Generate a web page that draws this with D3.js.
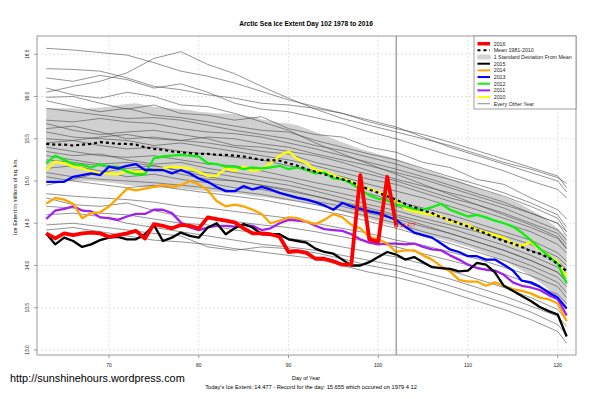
<!DOCTYPE html>
<html><head><meta charset="utf-8">
<script src="https://cdn.jsdelivr.net/npm/d3@7"></script>
<style>body{margin:0;background:#fff}svg{display:block}text{font-family:"Liberation Sans",Arial,sans-serif}</style>
</head><body><svg id="c" width="600" height="399"></svg>
<script>
const days = [63,64,65,66,67,68,69,70,71,72,73,74,75,76,77,78,79,80,81,82,83,84,85,86,87,88,89,90,91,92,93,94,95,96,97,98,99,100,101,102,103,104,105,106,107,108,109,110,111,112,113,114,115,116,117,118,119,120,121];
const xTicks = [70,80,90,100,110,120];
const yTicks = [13.0,13.5,14.0,14.5,15.0,15.5,16.0,16.5];

const y2016 = [14.38,14.32,14.38,14.36,14.38,14.39,14.38,14.34,14.36,14.38,
 14.41,14.32,14.49,14.47,14.44,14.48,14.47,14.44,14.57,14.55,
 14.53,14.51,14.44,14.38,14.38,14.37,14.34,14.16,14.17,14.15,
 14.08,14.08,14.05,14.01,14.01,15.07,14.31,14.28,15.05,14.477];
const y2015 = [14.38,14.25,14.33,14.29,14.22,14.25,14.30,14.33,14.34,14.31,
 14.31,14.37,14.48,14.29,14.33,14.39,14.35,14.33,14.45,14.50,
 14.37,14.44,14.49,14.45,14.37,14.37,14.37,14.31,14.29,14.27,
 14.20,14.16,14.14,14.07,14.00,14.00,14.04,14.10,14.16,14.13,
 14.07,14.10,14.04,13.98,13.97,13.96,13.93,13.94,14.03,14.01,
 13.92,13.76,13.70,13.64,13.58,13.51,13.46,13.42,13.16];
const y2014 = [14.73,14.80,14.78,14.73,14.56,14.62,14.63,14.70,14.80,14.91,
 14.89,14.91,14.93,14.95,14.93,14.95,15.00,14.96,14.89,14.76,
 14.70,14.72,14.70,14.66,14.61,14.50,14.53,14.57,14.56,14.52,
 14.49,14.54,14.61,14.57,14.48,14.44,14.34,14.31,14.26,14.16,
 14.18,14.18,14.12,14.07,13.99,13.93,13.83,13.81,13.81,13.76,
 13.80,13.76,13.72,13.70,13.67,13.62,13.60,13.55,13.34];
const y2013 = [14.99,14.99,14.99,15.05,15.07,15.09,15.07,15.17,15.15,15.18,
 15.20,15.13,15.13,15.13,15.09,15.13,15.09,15.03,14.99,14.93,
 14.88,14.88,14.94,14.90,14.93,14.90,14.86,14.83,14.80,14.78,
 14.75,14.71,14.66,14.74,14.70,14.67,14.64,14.62,14.58,14.54,
 14.46,14.39,14.36,14.33,14.26,14.19,14.16,14.11,14.11,14.07,
 14.07,14.01,13.94,13.82,13.80,13.75,13.68,13.62,13.49];
const y2012 = [15.21,15.30,15.25,15.20,15.19,15.16,15.20,15.17,15.17,15.11,
 15.08,15.08,15.27,15.29,15.30,15.31,15.30,15.29,15.21,15.20,
 15.17,15.17,15.14,15.16,15.15,15.16,15.18,15.14,15.16,15.13,
 15.09,15.10,15.03,15.02,14.97,14.90,14.83,14.79,14.77,14.72,
 14.70,14.67,14.66,14.69,14.73,14.66,14.62,14.58,14.60,14.57,
 14.53,14.50,14.46,14.39,14.30,14.20,14.11,14.02,13.79];
const y2011 = [14.55,14.65,14.67,14.70,14.65,14.64,14.57,14.56,14.54,14.58,
 14.61,14.61,14.66,14.66,14.62,14.51,14.45,14.42,14.45,14.47,
 14.47,14.46,14.48,14.47,14.42,14.44,14.50,14.54,14.53,14.52,
 14.47,14.43,14.42,14.41,14.37,14.31,14.27,14.25,14.26,14.26,
 14.25,14.26,14.22,14.19,14.18,14.12,14.07,14.01,13.97,13.95,
 13.94,13.89,13.80,13.76,13.74,13.71,13.65,13.60,13.41];
const y2010 = [15.13,15.23,15.21,15.17,15.15,15.11,15.09,15.09,15.08,15.12,
 15.11,15.11,15.14,15.15,15.17,15.16,15.15,15.11,15.06,15.06,
 15.15,15.12,15.17,15.12,15.14,15.21,15.30,15.35,15.26,15.21,
 15.13,15.11,15.07,15.03,14.99,14.93,14.91,14.87,14.83,14.77,
 14.67,14.64,14.62,14.60,14.58,14.52,14.50,14.48,14.42,14.39,
 14.36,14.33,14.26,14.23,14.28,14.19,14.12,14.04,13.87];
const meanVals = [15.44,15.43,15.43,15.42,15.43,15.44,15.46,15.45,15.44,15.44,
 15.43,15.40,15.38,15.37,15.35,15.34,15.33,15.32,15.32,15.31,
 15.31,15.30,15.29,15.27,15.25,15.25,15.24,15.21,15.18,15.14,
 15.11,15.08,15.05,15.02,14.99,14.94,14.90,14.86,14.82,14.78,
 14.73,14.69,14.65,14.62,14.57,14.54,14.50,14.46,14.42,14.38,
 14.33,14.29,14.26,14.22,14.17,14.14,14.09,14.02,13.93];
const sdUpper = [15.86,15.86,15.86,15.86,15.85,15.86,15.87,15.88,15.90,15.91,
 15.92,15.90,15.88,15.87,15.86,15.85,15.84,15.82,15.81,15.80,
 15.80,15.79,15.77,15.76,15.73,15.71,15.69,15.68,15.66,15.62,
 15.58,15.54,15.50,15.46,15.42,15.38,15.35,15.32,15.29,15.26,
 15.22,15.18,15.14,15.11,15.07,15.03,15.00,14.96,14.92,14.88,
 14.85,14.81,14.77,14.72,14.66,14.60,14.52,14.44,14.34];
const sdLower = [15.01,15.01,15.00,15.00,15.00,15.00,14.99,14.98,14.97,14.95,
 14.94,14.93,14.92,14.92,14.91,14.91,14.90,14.89,14.88,14.87,
 14.86,14.85,14.84,14.82,14.81,14.80,14.78,14.77,14.76,14.74,
 14.72,14.70,14.67,14.64,14.61,14.58,14.55,14.52,14.49,14.46,
 14.43,14.40,14.37,14.34,14.31,14.28,14.25,14.22,14.18,14.14,
 14.10,14.06,14.00,13.94,13.87,13.80,13.72,13.62,13.50];

const grayDays = [63,66,69,72,75,78,81,84,87,90,93,96,99,102,105,108,111,114,117,120,121];
const otherYears = [
 [16.57,16.55,16.52,16.49,16.40,16.30,16.24,16.16,16.06,15.96,15.88,15.80,15.72,15.64,15.52,15.40,15.30,15.20,15.10,15.00,14.87],
 [16.05,16.12,16.18,16.28,16.45,16.53,16.38,16.27,16.12,15.98,15.85,15.74,15.66,15.58,15.50,15.42,15.32,15.22,15.14,15.04,14.97],
 [16.33,16.32,16.30,16.22,16.12,16.08,16.02,15.98,15.92,15.90,15.86,15.80,15.70,15.62,15.55,15.46,15.36,15.26,15.16,15.06,14.92],
 [16.22,16.18,16.25,16.20,16.10,16.15,16.05,15.92,15.85,15.82,15.75,15.68,15.58,15.50,15.40,15.30,15.22,15.12,15.00,14.90,14.80],
 [16.10,16.02,15.98,16.05,16.00,15.90,15.88,15.80,15.70,15.60,15.45,15.32,15.20,15.08,14.96,14.84,14.72,14.60,14.48,14.34,14.20],
 [15.99,16.00,15.92,15.85,15.90,15.80,15.78,15.72,15.76,15.62,15.55,15.52,15.40,15.34,15.22,15.16,15.02,14.96,14.80,14.66,14.55],
 [15.95,15.88,15.82,15.86,15.78,15.75,15.70,15.65,15.60,15.58,15.48,15.40,15.32,15.25,15.15,15.05,14.96,14.86,14.74,14.60,14.45],
 [15.86,15.82,15.78,15.74,15.75,15.72,15.66,15.60,15.55,15.50,15.42,15.36,15.28,15.20,15.10,15.02,14.92,14.82,14.70,14.56,14.40],
 [15.72,15.70,15.74,15.70,15.68,15.62,15.58,15.56,15.52,15.45,15.38,15.30,15.22,15.14,15.05,14.95,14.85,14.75,14.62,14.50,14.35],
 [15.68,15.60,15.55,15.58,15.60,15.55,15.50,15.42,15.40,15.35,15.30,15.22,15.12,15.02,14.94,14.86,14.78,14.68,14.55,14.42,14.30],
 [15.62,15.65,15.58,15.50,15.52,15.48,15.45,15.40,15.35,15.32,15.22,15.15,15.08,15.00,14.90,14.80,14.72,14.62,14.50,14.38,14.25],
 [15.58,15.52,15.50,15.48,15.42,15.45,15.40,15.35,15.30,15.25,15.18,15.10,15.02,14.96,14.86,14.76,14.66,14.56,14.45,14.32,14.20],
 [15.50,15.48,15.42,15.38,15.40,15.35,15.32,15.28,15.25,15.18,15.12,15.05,14.96,14.88,14.80,14.70,14.60,14.50,14.40,14.25,14.15],
 [15.45,15.48,15.52,15.55,15.50,15.48,15.52,15.50,15.44,15.40,15.32,15.25,15.18,15.10,15.02,14.92,14.82,14.72,14.62,14.50,14.40],
 [15.40,15.35,15.30,15.28,15.30,15.25,15.20,15.18,15.12,15.05,14.98,14.92,14.85,14.76,14.68,14.60,14.50,14.40,14.30,14.15,14.05],
 [15.35,15.30,15.32,15.25,15.20,15.22,15.15,15.10,15.05,15.00,14.92,14.85,14.78,14.70,14.62,14.54,14.45,14.35,14.25,14.10,14.00],
 [15.30,15.25,15.20,15.22,15.18,15.12,15.10,15.05,15.00,14.95,14.88,14.80,14.72,14.65,14.56,14.48,14.40,14.30,14.18,14.05,13.95],
 [15.25,15.22,15.18,15.12,15.15,15.08,15.02,15.00,14.95,14.88,14.82,14.75,14.68,14.60,14.52,14.44,14.34,14.24,14.12,13.98,13.88],
 [15.15,15.18,15.12,15.05,15.08,15.02,14.98,14.92,14.90,14.84,14.76,14.70,14.62,14.55,14.46,14.38,14.28,14.18,14.06,13.92,13.82],
 [15.10,15.05,15.02,15.00,14.98,14.95,14.92,14.88,14.84,14.78,14.72,14.65,14.58,14.50,14.40,14.32,14.22,14.12,14.00,13.86,13.75],
 [15.05,15.00,14.96,14.92,14.95,14.90,14.86,14.82,14.78,14.72,14.66,14.60,14.52,14.44,14.35,14.26,14.16,14.06,13.95,13.80,13.68],
 [14.95,15.02,15.10,15.15,15.18,15.12,15.05,15.00,14.95,14.90,14.82,14.74,14.66,14.58,14.48,14.38,14.28,14.18,14.06,13.92,13.80],
 [14.85,14.82,14.80,14.78,14.75,14.70,14.68,14.64,14.60,14.56,14.50,14.44,14.38,14.30,14.24,14.16,14.08,13.98,13.88,13.75,13.62],
 [14.80,14.72,14.70,14.74,14.65,14.58,14.55,14.52,14.48,14.45,14.40,14.34,14.28,14.22,14.14,14.06,13.98,13.90,13.78,13.66,13.55],
 [14.70,14.68,14.62,14.60,14.55,14.50,14.48,14.42,14.38,14.32,14.28,14.22,14.16,14.10,14.02,13.94,13.84,13.74,13.62,13.48,13.35],
 [14.60,14.62,14.58,14.50,14.45,14.40,14.35,14.30,14.25,14.22,14.18,14.12,14.06,14.00,13.92,13.84,13.74,13.64,13.52,13.40,13.28],
 [14.48,14.50,14.46,14.42,14.38,14.35,14.22,14.18,14.22,14.20,14.15,14.08,14.00,13.94,13.85,13.76,13.66,13.56,13.45,13.30,13.18],
 [14.42,14.45,14.40,14.35,14.30,14.28,14.25,14.20,14.16,14.12,14.08,14.00,13.92,13.86,13.78,13.68,13.58,13.48,13.36,13.22,13.08]
];
const todayDay = 102;
const titleText = "Arctic Sea Ice Extent Day 102 1978 to 2016";
const legendLabels = ["2016","Mean 1981-2010","1 Standard Deviation From Mean","2015","2014","2013","2012","2011","2010","Every Other Year"];

const svg = d3.select("#c");
const L=37,R=576,T=36,B=355;
const x = d3.scaleLinear().domain([61.97,122.04]).range([L,R]);
const y = d3.scaleLinear().domain([12.941,16.716]).range([B,T]);

function fit(sel,target){const l=sel.node().getComputedTextLength();const fs=parseFloat(sel.attr("font-size"));sel.attr("font-size",fs*target/l);return sel;}

// grid
const g = svg.append("g");
g.selectAll(".gx").data(xTicks).join("line").attr("x1",d=>x(d)).attr("x2",d=>x(d)).attr("y1",T).attr("y2",B)
 .attr("stroke","#dcdcdc").attr("stroke-width",0.8).attr("stroke-dasharray","2,2");
g.selectAll(".gy").data(yTicks).join("line").attr("x1",L).attr("x2",R).attr("y1",d=>y(d)).attr("y2",d=>y(d))
 .attr("stroke","#dcdcdc").attr("stroke-width",0.8).attr("stroke-dasharray","2,2");

// sd band
const band = days.map((d,i)=>({d,u:sdUpper[i],l:sdLower[i]}));
svg.append("path").datum(band).attr("fill","#d0d0d0")
 .attr("d",d3.area().x(p=>x(p.d)).y0(p=>y(p.l)).y1(p=>y(p.u)));

// other years
const gl = d3.line().x(p=>x(p[0])).y(p=>y(p[1]));
svg.append("g").selectAll("path").data(otherYears).join("path")
 .attr("d",arr=>gl(arr.map((v,i)=>[grayDays[i],v])))
 .attr("fill","none").attr("stroke","#4a4a4a").attr("stroke-width",0.7).attr("stroke-opacity",0.85);

function series(vals,color,w,dash){
  const p = svg.append("path").datum(vals.map((v,i)=>[days[i],v])).attr("d",gl)
   .attr("fill","none").attr("stroke",color).attr("stroke-width",w).attr("stroke-linejoin","round");
  if(dash) p.attr("stroke-dasharray",dash);
  return p;
}
series(y2010,"#ffff00",2.3);
series(y2011,"#a020f0",2.3);
series(y2012,"#11ee11",2.3);
series(y2013,"#0000ff",2.3);
series(y2014,"#ffa500",2.3);
series(meanVals,"#000",2.2,"3,3");
series(y2015,"#000",2.3);
series(y2016,"#ff0000",3.8);

// today line
svg.append("line").attr("x1",x(todayDay)).attr("x2",x(todayDay)).attr("y1",T).attr("y2",B)
 .attr("stroke","#555").attr("stroke-width",0.8);
const lastV = y2016[y2016.length-1];
svg.append("rect").attr("x",x(todayDay)-1.5).attr("y",y(lastV)-1.5).attr("width",3).attr("height",3)
 .attr("fill","none").attr("stroke","#ff0000").attr("stroke-width",0.8);
svg.append("text").attr("x",x(todayDay)+4).attr("y",y(lastV)+1.8).attr("font-size",5).attr("fill","#ff0000").text(String(lastV));

// frame
svg.append("rect").attr("x",L).attr("y",T).attr("width",R-L).attr("height",B-T).attr("fill","none").attr("stroke","#999").attr("stroke-width",1);

// axes ticks
svg.selectAll(".tx").data(xTicks).join("line").attr("x1",d=>x(d)).attr("x2",d=>x(d)).attr("y1",B).attr("y2",B+3).attr("stroke","#999");
svg.selectAll(".ty").data(yTicks).join("line").attr("y1",d=>y(d)).attr("y2",d=>y(d)).attr("x1",L-3).attr("x2",L).attr("stroke","#999");
svg.selectAll(".lx").data(xTicks).join("text").attr("x",d=>x(d)).attr("y",367).attr("text-anchor","middle")
 .attr("font-size",5).attr("fill","#222").text(d=>d);
svg.selectAll(".ly").data(yTicks).join("text").attr("text-anchor","middle")
 .attr("transform",d=>`translate(29,${y(d)}) rotate(-90)`).attr("font-size",5).attr("fill","#222").text(d=>d.toFixed(1));

// titles
fit(svg.append("text").attr("x",306).attr("y",26).attr("text-anchor","middle").attr("font-weight","bold").attr("font-size",7).text(titleText),134);
fit(svg.append("text").attr("text-anchor","middle").attr("transform","translate(16.5,196.5) rotate(-90)").attr("font-size",5).text("Ice Extent in millions of sq. km."),77);
fit(svg.append("text").attr("x",306).attr("y",380).attr("text-anchor","middle").attr("font-size",5).text("Day of Year"),28);
fit(svg.append("text").attr("x",311).attr("y",389).attr("text-anchor","middle").attr("font-size",5).text("Today's Ice Extent: 14.477  - Record for the day: 15.655 which occured on 1979 4 12"),212);
fit(svg.append("text").attr("x",10).attr("y",381.5).attr("font-size",11).text("http://sunshinehours.wordpress.com"),175);

// legend
const lg = svg.append("g");
lg.append("rect").attr("x",474).attr("y",T).attr("width",R-474).attr("height",73).attr("fill","#fff").attr("stroke","#888").attr("stroke-width",0.8);
const ls = [
 {c:"#ff0000",w:3.5},{c:"#000",w:2,dash:"3,3"},{box:true},{c:"#000",w:2},{c:"#ffa500",w:2},
 {c:"#0000ff",w:2},{c:"#11ee11",w:2},{c:"#a020f0",w:2},{c:"#ffff00",w:2},{c:"#555",w:0.7}];
legendLabels.forEach((lab,i)=>{
  const yy = 43.7 + i*6.67;
  const s = ls[i];
  if(s.box){ lg.append("rect").attr("x",477).attr("y",yy-2.5).attr("width",14).attr("height",5).attr("rx",2.5).attr("fill","#d3d3d3"); }
  else { const ln = lg.append("line").attr("x1",477.5).attr("x2",490).attr("y1",yy).attr("y2",yy).attr("stroke",s.c).attr("stroke-width",s.w); if(s.dash) ln.attr("stroke-dasharray",s.dash); }
  lg.append("text").attr("x",493.7).attr("y",yy+1.8).attr("font-size",5.3).attr("fill","#222").text(lab);
});
</script></body></html>
